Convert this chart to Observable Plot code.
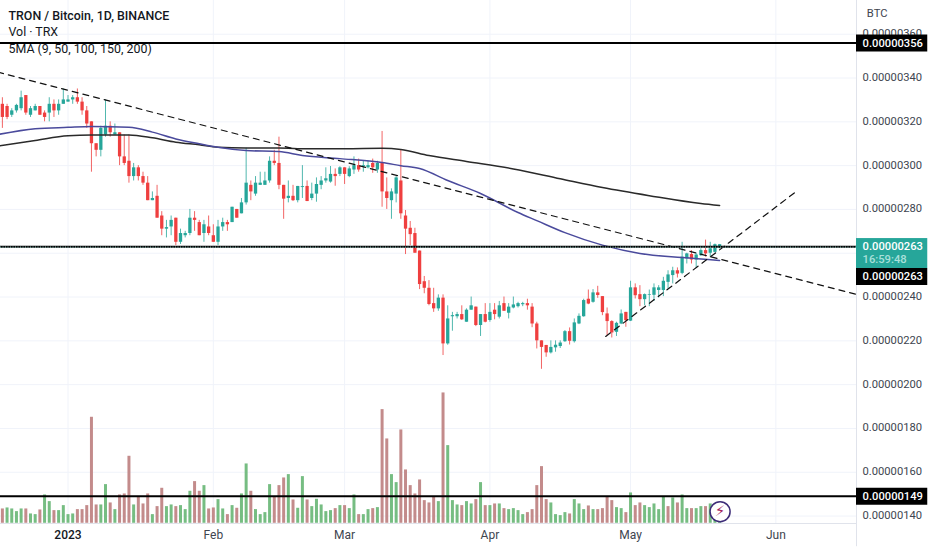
<!DOCTYPE html>
<html><head><meta charset="utf-8">
<script src="https://cdn.jsdelivr.net/npm/d3@7"></script>
<script src="https://cdn.jsdelivr.net/npm/@observablehq/plot@0.6"></script>
<style>html,body{margin:0;padding:0;background:#fff;overflow:hidden}svg{display:block}</style>
</head><body><div id="chart"></div>
<script>
// Prices are in units of 0.00000001 BTC; first candle is day -14 relative to 2023-01-01
const firstDay = -14;
const open = [328,327,323,325,326,332,323,325,327,324,
324,328,325,328,329,330,331,329,325,320,
310,307,314,318,314,315,304,302,295,299,
295,292,284,286,277,271,272,276,265,268,
269,276,274,269,272,268,265,272,274,274,
280,278,283,291,287,291,291,293,302,301,
291,285,286,284,290,290.5,285,287,291,293,
292.5,296,296,299,295,298,300,299.5,299,301,
298,301,288,284,287,293,277,271.4,269,261,
247,244,237,234.6,239.5,218.6,231,231,232,228.5,
234,235.4,227,232,229.3,234,230.8,237,232.6,235,
235.6,236.5,237,235.4,227.7,220,217.9,214.5,216.8,217.4,
219.6,224.2,219.6,227.7,231,239,237.6,241.9,240.2,232.3,
228.8,223.9,227.7,233,229,244.2,241.1,238.8,240.8,240.8,
243,243,246.7,249.8,252,250.8,257.4,259.4,256.9,258.9,
261.2,260,260.4,262.4];
const close = [322,322,325,327.5,331,324,326,327,323,322,
328,325,328,330,330,331,329,325,319,310,
307,317,318,315,315,304,301,295,299,295,
292,284,285,276,271,271.7,275,265,269,269,
276,275,268,273,269,265,272,274,273,281,
276,283,292,288,292,292,293,302,301,291,
284.7,286,284,290.5,290.4,283.6,287,291.4,293,294,
296,295,299,296,298.5,300,298,300,300,299,
301,288,285,288,294.4,278,271,268.5,260,245.7,
244,236.6,234.6,239.5,218.6,230,231.5,232,229.6,234,
236,227,232,228.5,233,232,236,233.5,235.4,236.4,
237,237,236,227.7,220,217,214.5,217,218,219,
224.2,219.8,228.2,231.2,238.4,236.8,241.9,240.7,232.9,228.8,
223.6,228,232.3,229.2,244.2,240.6,238.8,241.1,241.1,244.2,
244.2,247.2,250.1,252,250.5,258.2,259.7,256.9,259.2,261.2,
259.7,262,263.9,263.9];
const high = [331,328,326,328,334,332,327,328,327,325,
331,330,330,335,332,332,335,331,327,320,
310,318,330,320,319,315,314,314,301,300,
297,295,288,291,279,275,277,276,271,270,
280,279,275,275,277,273,275,276,275,281,
280,285,308,293,295,297,297,304,307,313,
291,293,291,290.5,300,293,292,294.4,295,299,
299.6,298.5,299.5,299,299.5,304,303,302,302,303,
302,315.6,294.4,289.4,295,307,279.5,274.5,271.4,261,
249.4,247.5,244,241,241,236,233,233,236,234.6,
240,235.4,232,237,237,237,238,240,237,240,
237.6,237.6,239,237,228.5,220,217.9,220,220,220,
224.7,225.9,230,232.3,239,243.2,243.4,244.9,240.2,235,
229.2,228.5,234.1,233,247.2,246,245.2,241.4,243.2,246,
245.2,249,252,253.6,253.3,265,260,261.2,260,262,
266,265,264.2,264];
const low = [317,321,322,324,325,323,322,325,323,320,
320,322,323,328,329,328,328,323,317,297,
304,304,313,313,314,300,300,292,293,293,
291,284,284,276,268,267,268,263.5,264,267,
268,270,268,265,268,265,263.5,270,270,274,
276,278,282,284,286,291,291,292,300,289,
275.5,283,283.6,283,285,283.6,284,283.3,289,292,
292,290.6,295,291.4,294.5,296,297,297,298.5,296.5,
296.5,281,280,275.5,283,275.5,259.4,263.5,260,243.4,
241.5,236,233,233.5,213.3,218,224.4,230,229.3,228.5,
234,226.5,222,228.2,228.5,229.6,230,233.5,230,234.6,
235,235.6,234,226,216.3,207,212.5,214,214.8,216.5,
219.3,218.1,219,227.4,230.8,236.5,237.2,239.4,231.5,222.4,
221.3,222,227.4,226.2,228.8,239.1,235.6,236,235.6,238,
239.6,240.2,243.7,246,248.7,250.2,255.1,255.1,253.1,258.5,
258.2,257.9,260.1,262];
const volume = [43,46,43,35,43,43,28,26,40,85,
65,38,38,53,26,28,41,41,53,318,
55,55,116,61,41,85,88,201,55,80,
58,88,26,50,105,50,55,50,53,41,
96,125,96,113,43,46,71,43,26,53,
45,88,178,96,41,26,32,116,80,113,
136,146,70,45,140,70,50,72,55,35,
38,44,53,53,44,85,26,26,41,44,
47,341,253,146,122,280,160,113,88,130,
68,61,78,65,391,233,68,55,53,65,
58,71,122,53,53,58,58,44,41,44,
38,26,32,41,113,170,71,61,26,23,
32,28,71,58,41,52,41,41,44,80,
68,47,44,32,91,53,61,53,47,58,
41,78,50,76,61,85,44,44,44,50,
50,58,23,3];
const volumeDir = ("RGGGGRGGRG"+"GRGGGGRRRR"+"RGGRGRRRGR"+"RRGRRGGRGG"+"GRRGRRGGRG"+"RGGRGGGGRR"+"RGRGGRGGGG"+"GRGRGGRGGR"+"GRRGGRRRRR"+"RRRGRGGGRG"+"GRGRGRGRGG"+"GGRRRRRGGG"+"GRGGGRGRRR"+"RGGRGRRGGG"+"GGRGRGGRGG"+"RGGG").split("");
const ma100Days = [-15,-7,0,5,13,18,23,28,32,38,45,50,58,67,71,75,81,88,96,100,106,114,122,131,139];
const ma100 = [314.2,316.8,317.5,317.9,317.5,315.3,312.2,310,308.4,306.9,306.4,304.6,303.2,301.4,300,298.7,293.2,287.3,278.6,274.9,269.4,263.7,259.9,258,256.7];
const ma200Days = [-15,-7,0,5,13,18,23,28,32,38,45,49,59,67,71,77,85,95,105,114,124,135,139];
const ma200 = [308.9,311.5,313.7,314,314,312.7,310.7,309.5,308.4,308.1,308.1,307.7,307.7,307.9,307.4,304.6,301.9,298.5,294,290,286.3,282.7,281.8];
const trendA = {days:[-15,168], prices:[342.7,241.3]};
const trendB = {days:[114.7,155.6], prices:[222,288.6]};
const levels = [356,263,149];
const gridPrices = [360,340,320,300,280,260,240,220,200,180,160,140];
const axisPrices = [360,340,320,300,280,240,220,200,180,160,140];
const monthDays = [31,59,90,120,151];
const monthNames = ["Feb","Mar","Apr","May","Jun"];
const title = "TRON / Bitcoin, 1D, BINANCE", volLabel = "Vol · TRX", maLabel = "5MA (9, 50, 100, 150, 200)";

const T0 = Date.UTC(2023,0,1);
const day = d => new Date(T0 + d*864e5);
const fmt = v => (v*1e-8).toFixed(8);
const axisDay = 168.2, labelDay = 169.5, boxEndDay = 183.4;
const volBase = 136.7, volToPrice = v => volBase + v/6.57;

const candles = open.map((o,i)=>({d:day(firstDay+i),o,c:close[i],h:high[i],l:low[i],up:close[i]>=o}));
const vols = volume.map((v,i)=>({d:day(firstDay+i),v:volToPrice(v),dir:volumeDir[i]}));
const zip = (ds,ps)=>ds.map((d,i)=>({d:day(d),p:ps[i]}));
const UP="#26a69a", DOWN="#ef3f3f", VUP="#76bd82", VDOWN="#c38b8b", GRID="#f0f3fa", AXIS="#e0e3eb";
const FONT='Roboto, sans-serif';
const dash="6,5";

const plot = Plot.plot({
  width:932,height:550,marginTop:0,marginLeft:0,marginRight:76,marginBottom:27,
  style:{background:"#fff",fontFamily:FONT,fontSize:"11.2px",color:"#3a3f4b"},
  x:{type:"utc",domain:[day(-14.4),day(axisDay)],axis:null},
  y:{domain:[136.6,375.4],axis:null},
  marks:[
    Plot.ruleX([0,...monthDays].map(day),{x:d=>d,y1:136.6,y2:375.4,stroke:GRID,strokeWidth:1}),
    Plot.ruleY(gridPrices,{x1:day(-14.4),x2:day(axisDay),stroke:GRID,strokeWidth:1}),
    Plot.ruleX(vols,{x:"d",y1:volBase,y2:"v",stroke:d=>d.dir==="R"?VDOWN:VUP,strokeWidth:3,clip:true}),
    Plot.ruleX(candles,{x:"d",y1:"l",y2:"h",stroke:d=>d.up?UP:DOWN,strokeWidth:1,strokeOpacity:.8,clip:true}),
    Plot.ruleX(candles,{x:"d",y1:"o",y2:"c",stroke:d=>d.up?UP:DOWN,strokeWidth:3.3,clip:true}),
    Plot.line(zip(ma200Days,ma200),{x:"d",y:"p",stroke:"#2a2a2a",strokeWidth:1.5,curve:"monotone-x",clip:true}),
    Plot.line(zip(ma100Days,ma100),{x:"d",y:"p",stroke:"#4a4a9c",strokeWidth:1.5,curve:"monotone-x",clip:true}),
    Plot.line(zip(trendA.days,trendA.prices),{x:"d",y:"p",stroke:"#111",strokeWidth:1.2,strokeDasharray:dash,clip:true}),
    Plot.line(zip(trendB.days,trendB.prices),{x:"d",y:"p",stroke:"#111",strokeWidth:1.2,strokeDasharray:dash,clip:true}),
    Plot.ruleY(levels,{x1:day(-14.4),x2:day(axisDay),stroke:"#000",strokeWidth:2}),
    Plot.ruleY([262.8],{x1:day(-14.4),x2:day(axisDay),stroke:"#8fd3cb",strokeWidth:1,strokeDasharray:"1,1.5"}),
    Plot.ruleX([day(axisDay)],{y1:126,y2:375.4,stroke:AXIS,strokeWidth:1}),
    Plot.ruleY([136.6],{x1:day(-14.4),x2:day(axisDay),stroke:AXIS,strokeWidth:1}),
    Plot.axisY({anchor:"right",ticks:axisPrices,tickSize:0,tickPadding:6,tickFormat:fmt,label:null,fill:"#40454f",fontSize:11.2,dy:-0.6}),
    Plot.axisX({anchor:"bottom",ticks:monthDays.map(day),tickSize:0,tickPadding:7,label:null,fill:"#40454f",fontSize:12,
      tickFormat:d=>monthNames[monthDays.indexOf((d-T0)/864e5)]}),
    Plot.axisX({anchor:"bottom",ticks:[day(0)],tickSize:0,tickPadding:7,label:null,fill:"#131722",fontSize:12,fontWeight:500,
      tickFormat:()=>"2023"}),
    Plot.rect([{}],{x1:day(axisDay),x2:day(boxEndDay),y1:253,y2:266.7,fill:UP}),
    Plot.ruleY([356,249.4,149],{x1:day(axisDay),x2:day(boxEndDay),stroke:"#000",strokeWidth:17}),
    Plot.text([[356,"0.00000356"],[263,"0.00000263"],[249.4,"0.00000263"],[149,"0.00000149"]],
      {x:day(labelDay),y:d=>d[0],text:d=>d[1],fill:"#fff",textAnchor:"start",fontSize:11.2,fontWeight:500}),
    Plot.text([[257,"16:59:48"]],{x:day(labelDay),y:d=>d[0],text:d=>d[1],fill:"#a9e0da",textAnchor:"start",fontSize:11.2,fontWeight:500}),
    Plot.text(["BTC"],{x:day(170.4),frameAnchor:"top",dy:9,text:d=>d,textAnchor:"start",lineAnchor:"top",fill:"#40454f",fontSize:11.2}),
    Plot.dot([{}],{x:day(139.1),y:142,r:10,fill:"#fff",stroke:"#3d2c78",strokeWidth:1.5}),
    Plot.text(["⚡"],{x:day(139.1),y:142,text:d=>d,fill:"#a3245f",fontSize:15,fontFamily:"DejaVu Sans"}),
    Plot.text([title],{frameAnchor:"top-left",dx:8,dy:10.5,lineAnchor:"top",text:d=>d,fill:"#131722",fontSize:12.4,fontWeight:500,textAnchor:"start"}),
    Plot.text([volLabel],{frameAnchor:"top-left",dx:8,dy:26.5,lineAnchor:"top",text:d=>d,fill:"#131722",fontSize:12.4,textAnchor:"start"}),
    Plot.text([maLabel],{frameAnchor:"top-left",dx:8,dy:43.5,lineAnchor:"top",text:d=>d,fill:"#131722",fontSize:12.4,textAnchor:"start"})
  ]
});
document.getElementById("chart").append(plot);
</script>
</body></html>
